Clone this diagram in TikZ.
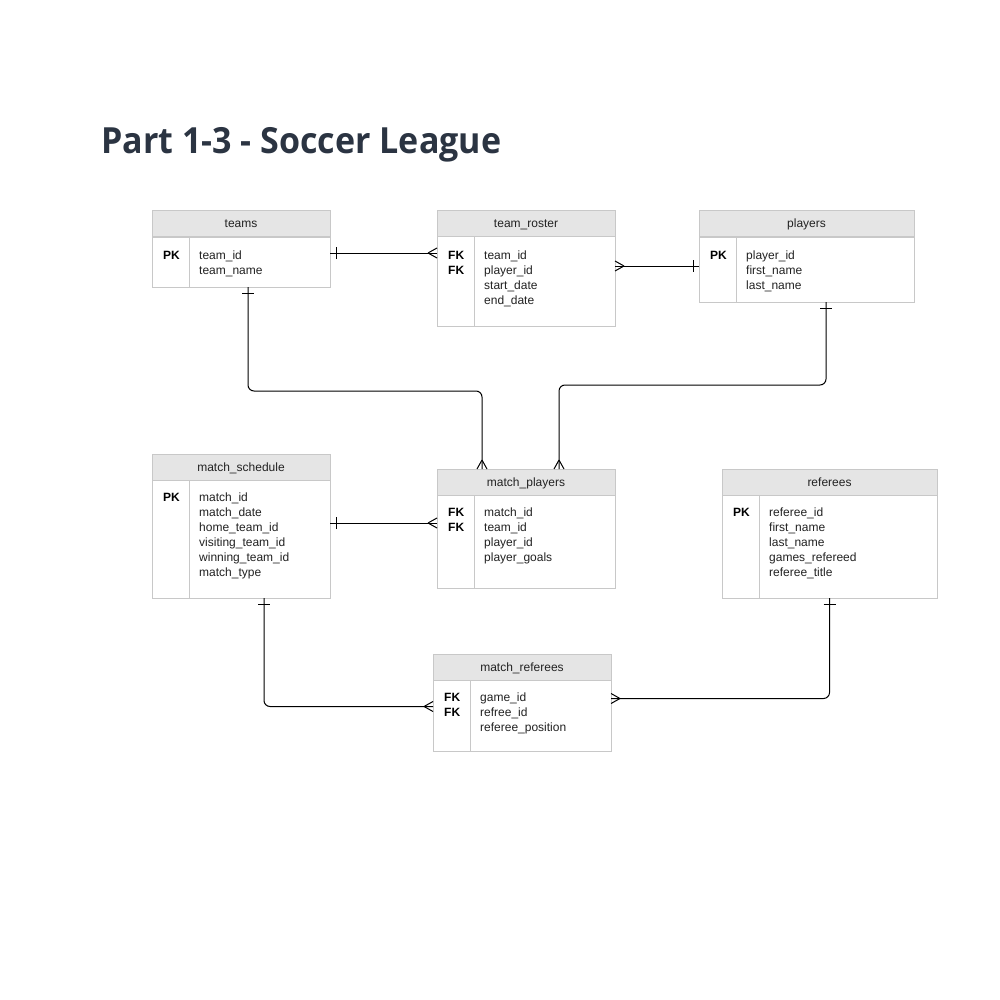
\documentclass[tikz,border=0pt]{standalone}
\usepackage{fontspec}
\setmainfont{Liberation Sans}
\newfontfamily\titlefont[FakeStretch=0.945]{Open Sans}
\usetikzlibrary{positioning,decorations.markings}
\definecolor{titlegrey}{HTML}{2B3442}
\definecolor{boxline}{HTML}{C8C8C8}
\definecolor{headfill}{HTML}{E5E5E5}
\definecolor{fieldtext}{HTML}{222222}
\tikzset{
  head/.style={draw=boxline, fill=headfill, line width=1pt, minimum height=26pt,
    inner sep=0pt, outer sep=0pt, text height=9pt, text depth=1pt,
    font=\fontsize{12}{15}\selectfont, text=fieldtext},
  body/.style={draw=boxline, fill=white, line width=1pt, inner sep=0pt, outer sep=0pt},
  sep/.style={draw=boxline, line width=1pt},
  keys/.style={inner sep=0pt, align=left, font=\fontsize{12}{15}\selectfont\bfseries, text=black},
  fields/.style={inner sep=0pt, align=left, font=\fontsize{12}{15}\selectfont, text=fieldtext},
  rel/.style={draw=black, line width=1pt, rounded corners=6pt},
  one start/.style={postaction={decorate, decoration={markings,
    mark=at position 6pt with {\draw[line width=1pt] (0,-6pt) -- (0,6pt);}}}},
  many end/.style={postaction={decorate, decoration={markings,
    mark=at position 1 with {\draw[line width=1pt] (-9pt,0) -- (0,5pt) (-9pt,0) -- (0,-5pt);}}}},
}
\begin{document}
\begin{tikzpicture}[x=1pt, y=-1pt]
\useasboundingbox (0,0) rectangle (1000,1000);
\node[anchor=base west, inner sep=0pt, text=titlegrey, font=\titlefont\bfseries\fontsize{36}{42}\selectfont] (title) at (101,154) {Part 1-3 - Soccer League};

% teams
\node[head, minimum width=178pt] (teams) at (241,224) {teams};
\node[body, minimum width=178pt, minimum height=50pt, below=0pt of teams] (teamsb) {};
\draw[sep] ([xshift=37pt]teamsb.north west) -- ([xshift=37pt]teamsb.south west);
\node[keys, below right=14pt and 11pt of teamsb.north west] (teamsk) {PK};
\node[fields, below right=14pt and 47pt of teamsb.north west] (teamsf) {team\_id\\team\_name};

% team_roster
\node[head, minimum width=178pt] (roster) at (526,224) {team\_roster};
\node[body, minimum width=178pt, minimum height=89pt, below=0pt of roster] (rosterb) {};
\draw[sep] ([xshift=37pt]rosterb.north west) -- ([xshift=37pt]rosterb.south west);
\node[keys, below right=14pt and 11pt of rosterb.north west] (rosterk) {FK\\FK};
\node[fields, below right=14pt and 47pt of rosterb.north west] (rosterf) {team\_id\\player\_id\\start\_date\\end\_date};

% players
\node[head, minimum width=215pt] (players) at (806.5,224) {players};
\node[body, minimum width=215pt, minimum height=65pt, below=0pt of players] (playersb) {};
\draw[sep] ([xshift=37pt]playersb.north west) -- ([xshift=37pt]playersb.south west);
\node[keys, below right=14pt and 11pt of playersb.north west] (playersk) {PK};
\node[fields, below right=14pt and 47pt of playersb.north west] (playersf) {player\_id\\first\_name\\last\_name};

% match_schedule
\node[head, minimum width=178pt] (sched) at (241,467) {match\_schedule};
\node[body, minimum width=178pt, minimum height=118pt, below=0pt of sched] (schedb) {};
\draw[sep] ([xshift=37pt]schedb.north west) -- ([xshift=37pt]schedb.south west);
\node[keys, below right=13pt and 11pt of schedb.north west] (schedk) {PK};
\node[fields, below right=13pt and 47pt of schedb.north west] (schedf) {match\_id\\match\_date\\home\_team\_id\\visiting\_team\_id\\winning\_team\_id\\match\_type};

% match_players
\node[head, minimum width=178pt] (mplay) at (526,482) {match\_players};
\node[body, minimum width=178pt, minimum height=93pt, below=0pt of mplay] (mplayb) {};
\draw[sep] ([xshift=37pt]mplayb.north west) -- ([xshift=37pt]mplayb.south west);
\node[keys, below right=13pt and 11pt of mplayb.north west] (mplayk) {FK\\FK};
\node[fields, below right=13pt and 47pt of mplayb.north west] (mplayf) {match\_id\\team\_id\\player\_id\\player\_goals};

% referees
\node[head, minimum width=215pt] (refs) at (829.5,482) {referees};
\node[body, minimum width=215pt, minimum height=103pt, below=0pt of refs] (refsb) {};
\draw[sep] ([xshift=37pt]refsb.north west) -- ([xshift=37pt]refsb.south west);
\node[keys, below right=13pt and 11pt of refsb.north west] (refsk) {PK};
\node[fields, below right=13pt and 47pt of refsb.north west] (refsf) {referee\_id\\first\_name\\last\_name\\games\_refereed\\referee\_title};

% match_referees
\node[head, minimum width=178pt] (mref) at (522,667) {match\_referees};
\node[body, minimum width=178pt, minimum height=71pt, below=0pt of mref] (mrefb) {};
\draw[sep] ([xshift=37pt]mrefb.north west) -- ([xshift=37pt]mrefb.south west);
\node[keys, below right=13pt and 11pt of mrefb.north west] (mrefk) {FK\\FK};
\node[fields, below right=13pt and 47pt of mrefb.north west] (mreff) {game\_id\\refree\_id\\referee\_position};

% relations
\draw[rel, one start, many end] ([yshift=9pt]teamsb.east) -- ([yshift=9pt]teamsb.east -| rosterb.west);
\draw[rel, one start, many end] ([yshift=3.5pt]playersb.west) -- ([yshift=3.5pt]playersb.west -| rosterb.east);
\draw[rel, one start, many end] ([xshift=7pt]teamsb.south) -- ++(0,104) -| ([xshift=-44pt]mplay.north);
\draw[rel, one start, many end] ([xshift=19.5pt]playersb.south) -- ++(0,83) -| ([xshift=33pt]mplay.north);
\draw[rel, one start, many end] ([yshift=16pt]schedb.east) -- ([yshift=16pt]schedb.east -| mplayb.west);
\draw[rel, one start, many end] ([xshift=23pt]schedb.south) |- ([yshift=9pt]mrefb.west);
\draw[rel, one start, many end] (refsb.south) |- ([yshift=17pt]mrefb.east);
\end{tikzpicture}
\end{document}
